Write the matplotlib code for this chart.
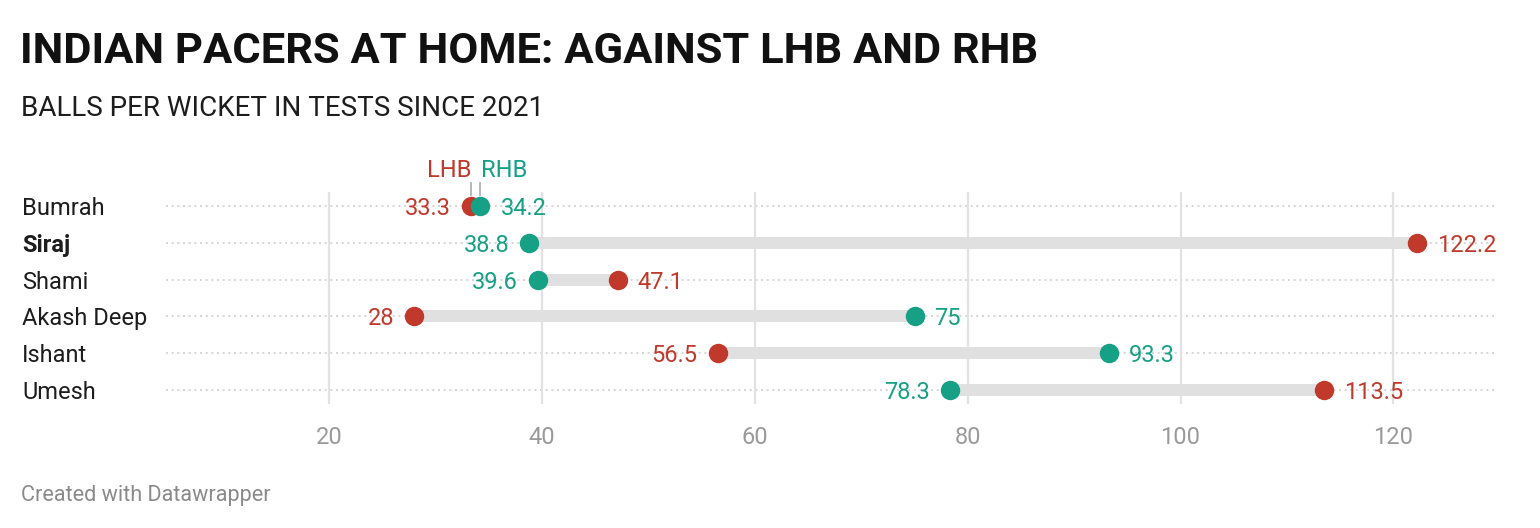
import matplotlib
matplotlib.use("Agg")
import matplotlib.pyplot as plt
from matplotlib.transforms import blended_transform_factory

plt.rcParams['font.family'] = ['Roboto', 'DejaVu Sans']

players = ["Bumrah", "Siraj", "Shami", "Akash Deep", "Ishant", "Umesh"]
lhb = [33.3, 122.2, 47.1, 28, 56.5, 113.5]
rhb = [34.2, 38.8, 39.6, 75, 93.3, 78.3]
lhb_labels = ["33.3", "122.2", "47.1", "28", "56.5", "113.5"]
rhb_labels = ["34.2", "38.8", "39.6", "75", "93.3", "78.3"]
xticks = [20, 40, 60, 80, 100, 120]
bold_player = "Siraj"

RED = "#c0392b"
GREEN = "#16a085"
W, H = 1540, 528

fig = plt.figure(figsize=(W / 100, H / 100), dpi=100)
ax = fig.add_axes([166 / W, 1 - 404 / H, (1496 - 166) / W, (404 - 192) / H])
ax.set_xlim(4.65, 129.65)
ax.set_ylim(5.38, -0.38)
for s in ax.spines.values():
    s.set_visible(False)
ax.set_yticks([])
ax.set_xticks(xticks)
ax.set_xticklabels([str(t) for t in xticks])
ax.tick_params(axis='x', length=0, pad=15.5, labelsize=17, labelcolor="#9a9a9a")
ax.grid(axis='x', color="#e2e2e2", linewidth=1.6, zorder=1)
ax.set_axisbelow(True)

ys = list(range(len(players)))
for y in ys:
    ax.axhline(y, color="#cfcfcf", linewidth=1.2, linestyle=(0, (1.2, 2.2)), zorder=0.5)

for y, l, r in zip(ys, lhb, rhb):
    ax.plot([l, r], [y, y], color="#e0e0e0", linewidth=8.6, solid_capstyle='butt', zorder=2)

ax.plot(lhb, ys, 'o', color=RED, markersize=14, markeredgewidth=0, zorder=3)
ax.plot(rhb, ys, 'o', color=GREEN, markersize=14, markeredgewidth=0, zorder=4)

px_per_unit = (1496 - 166) / (129.65 - 4.65)
off = 20 / px_per_unit
for y, l, r, ll, rl in zip(ys, lhb, rhb, lhb_labels, rhb_labels):
    if l <= r:
        ax.text(l - off, y, ll, color=RED, fontsize=17, ha='right', va='center_baseline', zorder=5)
        ax.text(r + off, y, rl, color=GREEN, fontsize=17, ha='left', va='center_baseline', zorder=5)
    else:
        ax.text(r - off, y, rl, color=GREEN, fontsize=17, ha='right', va='center_baseline', zorder=5)
        ax.text(l + off, y, ll, color=RED, fontsize=17, ha='left', va='center_baseline', zorder=5)

# legend labels above first row
ax.plot([lhb[0], lhb[0]], [-0.62, -0.30], color="#aaaaaa", linewidth=1.2, clip_on=False)
ax.plot([rhb[0], rhb[0]], [-0.62, -0.30], color="#aaaaaa", linewidth=1.2, clip_on=False)
ax.text(lhb[0] + 0.1, -1.02, "LHB", color=RED, fontsize=17, ha='right', va='center_baseline', clip_on=False)
ax.text(rhb[0] + 0.1, -1.02, "RHB", color=GREEN, fontsize=17, ha='left', va='center_baseline', clip_on=False)

trans = blended_transform_factory(fig.transFigure, ax.transData)
for y, p in zip(ys, players):
    ax.text(22 / W, y, p, transform=trans, fontsize=17, color="#1d1d1d",
            fontweight='bold' if p == bold_player else 'normal',
            ha='left', va='center_baseline')

fig.text(20 / W, 1 - 47 / H, "INDIAN PACERS AT HOME: AGAINST LHB AND RHB",
         fontsize=31.3, fontweight='bold', color="#111111", ha='left', va='center_baseline')
fig.text(21 / W, 1 - 106 / H, "BALLS PER WICKET IN TESTS SINCE 2021",
         fontsize=20, color="#1d1d1d", ha='left', va='center_baseline')
fig.text(21 / W, 1 - 493 / H, "Created with Datawrapper",
         fontsize=15.6, color="#8a8a8a", ha='left', va='center_baseline')

fig.savefig("out.png", dpi=100, facecolor="white")
